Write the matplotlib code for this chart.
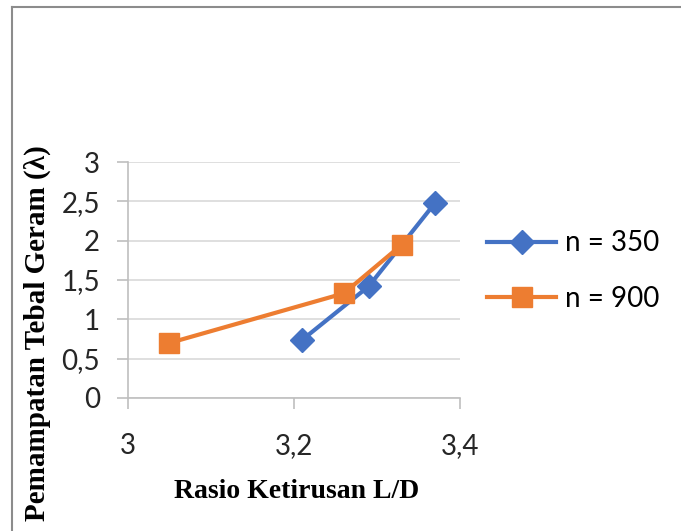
import matplotlib
matplotlib.use("Agg")
import matplotlib.pyplot as plt
from matplotlib.lines import Line2D

# data
ld_350 = [3.21, 3.29, 3.37]
lam_350 = [0.74, 1.42, 2.48]
ld_900 = [3.05, 3.26, 3.33]
lam_900 = [0.70, 1.33, 1.95]

series_labels = ["n = 350", "n = 900"]
x_ticks = [3.0, 3.2, 3.4]
x_tick_labels = ["3", "3,2", "3,4"]
y_ticks = [0, 0.5, 1, 1.5, 2, 2.5, 3]
y_tick_labels = ["0", "0,5", "1", "1,5", "2", "2,5", "3"]

BLUE = "#4472C4"
ORANGE = "#ED7D31"
GRID = "#D9D9D9"
TICK_FONT = "Lato"
TITLE_FONT = "Liberation Serif"

fig = plt.figure(figsize=(6.81, 5.31), dpi=100)
ax = fig.add_axes([128 / 681, 1 - 398 / 531, (460 - 128) / 681, (398 - 162) / 531])

ax.plot(ld_350, lam_350, color=BLUE, lw=3, marker="D", ms=12, label=series_labels[0], zorder=3)
ax.plot(ld_900, lam_900, color=ORANGE, lw=3, marker="s", ms=14, label=series_labels[1], zorder=4)

ax.set_xlim(3.0, 3.4)
ax.set_ylim(0, 3)
ax.set_xticks(x_ticks)
ax.set_xticklabels(x_tick_labels, fontfamily=TICK_FONT, fontsize=20, color="#262626")
ax.set_yticks(y_ticks)
ax.set_yticklabels(y_tick_labels, fontfamily=TICK_FONT, fontsize=20, color="#262626")

ax.grid(axis="y", color=GRID, lw=1.2)
ax.set_axisbelow(True)
for side in ["top", "right"]:
    ax.spines[side].set_visible(False)
for side in ["left", "bottom"]:
    ax.spines[side].set_color("#BFBFBF")
    ax.spines[side].set_linewidth(1.2)
ax.tick_params(axis="y", length=8, width=1.2, color="#BFBFBF", pad=12)
ax.tick_params(axis="x", length=8, width=1.2, color="#BFBFBF", pad=17)

fig.text(297 / 681, 1 - 492 / 531, "Rasio Ketirusan L/D", ha="center", va="center",
         fontfamily=TITLE_FONT, fontweight="bold", fontsize=20)
fig.text(37 / 681, 1 - 333 / 531, "Pemampatan Tebal Geram (\u03bb)", ha="center", va="center",
         rotation=90, fontfamily=TITLE_FONT, fontweight="bold", fontsize=21)

ax.legend(loc="center left", bbox_to_anchor=(487 / 681, 1 - 271 / 531), bbox_transform=fig.transFigure,
          frameon=False, prop={"family": TICK_FONT, "size": 20}, handlelength=2.5,
          handletextpad=0.3, labelspacing=1.05, borderpad=0, borderaxespad=0)

# chart frame (only top and left edges fall inside the picture)
fig.add_artist(Line2D([12 / 681, 12 / 681], [0, 1 - 7 / 531], color="#8C8C8C", lw=1.5))
fig.add_artist(Line2D([12 / 681, 1], [1 - 7 / 531, 1 - 7 / 531], color="#8C8C8C", lw=1.5))

fig.savefig("out.png", dpi=100)
